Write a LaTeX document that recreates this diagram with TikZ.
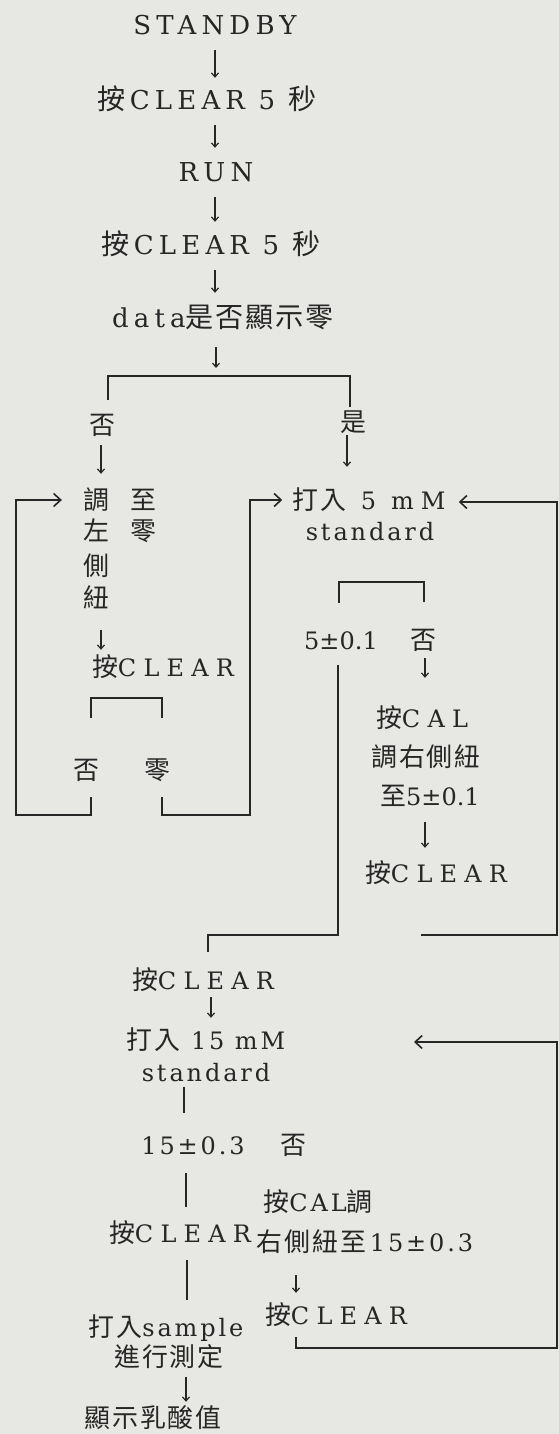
\documentclass[tikz,border=0pt]{standalone}
\usepackage{fontspec}
\setmainfont{DejaVu Serif}
\newfontfamily\cj[Scale=1.08,LetterSpace=7]{Noto Sans CJK TC}
\newfontfamily\sA[LetterSpace=20]{DejaVu Serif}
\newfontfamily\sB[LetterSpace=30]{DejaVu Serif}
\newfontfamily\sC[LetterSpace=12]{DejaVu Serif}
\newfontfamily\sN{DejaVu Serif}
\newcommand\zh[1]{{\cj #1}}
\usetikzlibrary{arrows.meta}
\definecolor{paper}{RGB}{231,231,228}
\definecolor{ink}{RGB}{38,38,38}
\tikzset{
  big/.style={inner sep=0pt, text=ink, font=\fontsize{26bp}{30bp}\selectfont, text height=22.9bp, text depth=3.1bp},
  mid/.style={inner sep=0pt, text=ink, font=\fontsize{24bp}{28bp}\selectfont, text height=21.1bp, text depth=2.9bp},
  arr/.style={draw=ink, line width=1.2bp, -{Straight Barb[length=4bp,width=7bp]}},
  larr/.style={draw=ink, line width=1.6bp, -{Straight Barb[length=7bp,width=13bp]}},
  ln/.style={draw=ink, line width=1.6bp},
}
\begin{document}
\begin{tikzpicture}[x=1bp,y=-1bp]
\fill[paper] (0,0) rectangle (559,1434);
\useasboundingbox (0,0) rectangle (559,1434);

% ---- top column ----
\node[big] (standby) at (215,25) {\sA STANDBY};
\node[big] (clr1) at (207,100) {\zh{按}{\sA\,CLEAR 5 }\zh{秒}};
\node[big] (run) at (216,172) {\sA RUN};
\node[big] (clr2) at (211,245) {\zh{按}{\sA\,CLEAR 5 }\zh{秒}};
\node[big] (data) at (223,318) {{\sA data}\zh{是否顯示零}};
\coordinate (c0) at (215,0);
\coordinate (c1) at (216,0);
\draw[arr, shorten <=12bp, shorten >=9bp] (standby.south -| c0) -- (clr1.north -| c0);
\draw[arr, shorten <=12bp, shorten >=11bp] (clr1.south -| c0) -- (run.north -| c0);
\draw[arr, shorten <=12bp, shorten >=10bp] (run.south -| c0) -- (clr2.north -| c0);
\draw[arr, shorten <=12bp, shorten >=12bp] (clr2.south -| c0) -- (data.north -| c0);

% ---- branch ----
\coordinate (bm) at (216,376);
\coordinate (bl) at (108,376);
\coordinate (br) at (350,376);
\node[mid] (no1) at (102,425) {\zh{否}};
\node[mid] (yes1) at (353,422) {\zh{是}};
\draw[arr, shorten <=16bp, shorten >=8bp] (data.south -| c1) -- (bm);
\draw[ln, shorten <=13bp, shorten >=3bp] (no1.north -| bl) -- (bl) -- (br) -- (yes1.north -| br);

% ---- left branch ----
\node[mid] (v1) at (96,500) {\zh{調}};
\node[mid] (v2) at (96,531) {\zh{左}};
\node[mid] (v3) at (96,566) {\zh{側}};
\node[mid] (v4) at (96,598) {\zh{紐}};
\node[mid] (v5) at (143,500) {\zh{至}};
\node[mid] (v6) at (143,531) {\zh{零}};
\node[mid] (clr3) at (163,667) {\zh{按}{\sB CLEAR}};
\coordinate (c2) at (101,0);
\draw[arr, shorten <=8bp, shorten >=14bp] (no1.south -| c2) -- (v1.north -| c2);
\draw[arr, shorten <=20bp, shorten >=5bp] (v4.south -| c2) -- (clr3.north -| c2);
\coordinate (bk1) at (91,718);
\coordinate (bk2) at (91,698);
\coordinate (bk3) at (162,698);
\coordinate (bk4) at (162,718);
\draw[ln] (bk1) -- (bk2) -- (bk3) -- (bk4);
\node[mid] (no2) at (86,770) {\zh{否}};
\node[mid] (zero2) at (157,770) {\zh{零}};
\coordinate (lA) at (91,815);
\coordinate (lB) at (16,815);
\coordinate (lC) at (16,500);
\draw[larr, shorten <=15bp, shorten >=21bp] (no2.south -| lA) -- (lA) -- (lB) -- (lC) -- (v1.west);
\coordinate (mA) at (162,815);
\coordinate (mB) at (250,815);
\coordinate (mC) at (250,500);

% ---- right branch ----
\node[mid] (in5) at (369,500) {\zh{打入}{\sB\ 5 mM}};
\node[mid] (std1) at (370,531) {\sC standard};
\draw[larr, shorten <=15bp, shorten >=10bp] (zero2.south -| mA) -- (mA) -- (mB) -- (mC) -- (in5.west);
\coordinate (c3) at (347,0);
\draw[arr, shorten <=1bp, shorten >=21bp] (yes1.south -| c3) -- (in5.north -| c3);
\coordinate (bq1) at (339,603);
\coordinate (bq2) at (339,582);
\coordinate (bq3) at (424,582);
\coordinate (bq4) at (424,602);
\draw[ln] (bq1) -- (bq2) -- (bq3) -- (bq4);
\node[mid] (v51) at (341,640) {\sN 5±0.1};
\node[mid] (no3) at (423,640) {\zh{否}};
\node[mid] (cal1) at (422,718) {\zh{按}{\sB CAL}};
\node[mid] (adj1) at (426,757) {\zh{調右側紐}};
\node[mid] (to1) at (430,796) {\zh{至}{\sN 5±0.1}};
\node[mid] (clr4) at (436,873) {\zh{按}{\sB CLEAR}};
\coordinate (c4) at (425,0);
\draw[arr, shorten <=6bp, shorten >=28bp] (no3.south -| c4) -- (cal1.north -| c4);
\draw[arr, shorten <=14bp, shorten >=13bp] (to1.south -| c4) -- (clr4.north -| c4);
\coordinate (rA) at (421,935);
\coordinate (rB) at (557,935);
\coordinate (rC) at (557,502);
\draw[larr, shorten >=13bp] (rA) -- (rB) -- (rC) -- (in5.east |- rC);

% ---- middle ----
\coordinate (mv) at (338,935);
\coordinate (mw) at (208,935);
\node[mid] (clr5) at (203,980) {\zh{按}{\sB CLEAR}};
\draw[ln, shorten <=13bp, shorten >=16bp] (v51.south -| mv) -- (mv) -- (mw) -- (clr5.north -| mw);
\node[mid] (in15) at (206,1040) {\zh{打入}{\sC\ 15 mM}};
\node[mid] (std2) at (206,1072) {\sC standard};
\coordinate (c5) at (211,0);
\draw[arr, shorten <=5bp, shorten >=10bp] (clr5.south -| c5) -- (in15.north -| c5);
\node[mid] (v153) at (193,1145) {\sC 15±0.3};
\node[mid] (no4) at (293,1145) {\zh{否}};
\coordinate (c6) at (184,0);
\coordinate (c7) at (186,0);
\coordinate (c8) at (187,0);
\draw[ln, shorten <=3bp, shorten >=20bp] (std2.south -| c6) -- (v153.north -| c6);
\node[mid] (clr6) at (180,1233) {\zh{按}{\sB CLEAR}};
\draw[ln, shorten <=16bp, shorten >=14bp] (v153.south -| c7) -- (clr6.north -| c7);
\node[mid] (cal2) at (318,1202) {\zh{按}{\sC CAL}\zh{調}};
\node[mid] (adj2) at (365,1242) {\zh{右側紐至}{\sC\,15±0.3}};
\node[mid] (clr7) at (336,1315) {\zh{按}{\sB CLEAR}};
\coordinate (c9) at (296,0);
\draw[arr, shorten <=21bp, shorten >=10bp] (adj2.south -| c9) -- (clr7.north -| c9);
\node[mid] (samp) at (166,1327) {\zh{打入}{\sC sample}};
\draw[ln, shorten <=15bp, shorten >=15bp] (clr6.south -| c8) -- (samp.north -| c8);
\node[mid] (meas) at (169,1357) {\zh{進行測定}};
\node[mid] (lact) at (153,1418) {\zh{顯示乳酸值}};
\draw[arr, shorten <=8bp, shorten >=4bp] (meas.south -| c7) -- (lact.north -| c7);

% ---- lower right loop ----
\coordinate (qA) at (296,1348);
\coordinate (qB) at (557,1348);
\coordinate (qC) at (557,1042);
\coordinate (qD) at (414,1042);
\draw[larr, shorten <=10bp] (clr7.south -| qA) -- (qA) -- (qB) -- (qC) -- (qD);
\end{tikzpicture}
\end{document}
